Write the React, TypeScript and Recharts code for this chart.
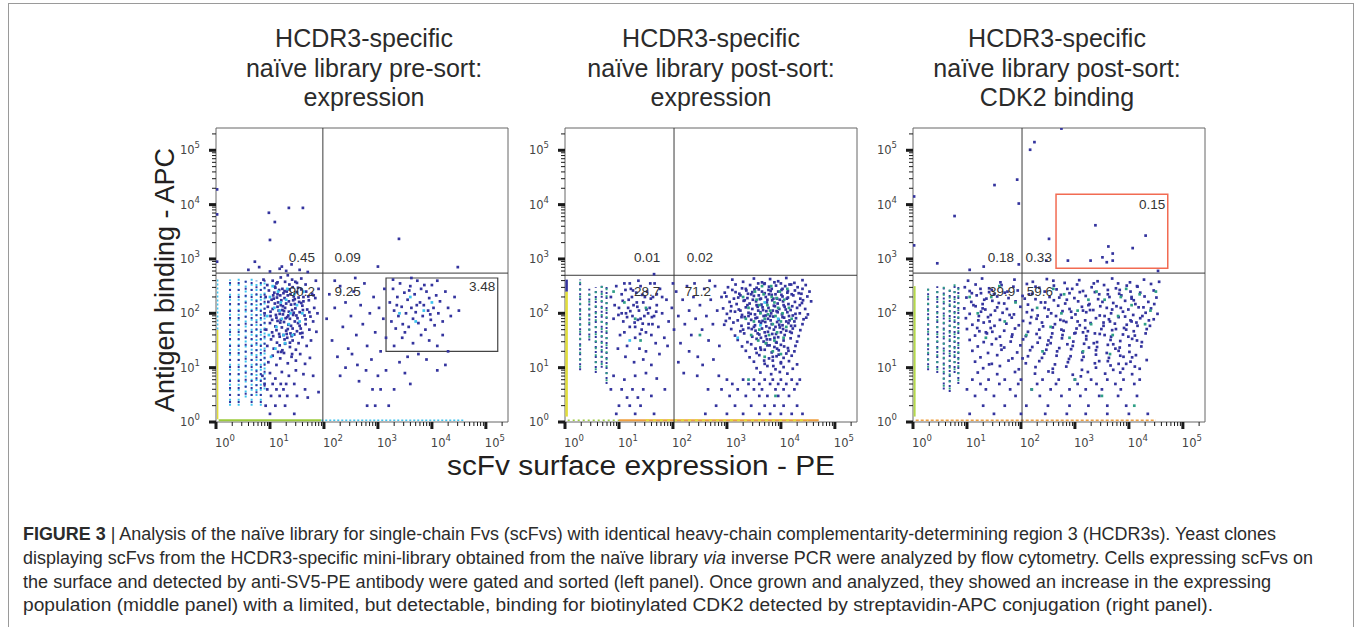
import React from "react";
import {
  ScatterChart,
  Scatter,
  XAxis,
  YAxis,
  ReferenceLine,
  ReferenceArea,
  ReferenceDot,
} from "recharts";

// every value below is in decades (log10 of the fluorescence channel)
const BLUE = "#34349e";
const CYAN = "#3ec3ee";
const GREEN = "#2f9f86";
const YELLOW = "#e2de3a";
const ORANGE = "#ef9f3f";
const LIME = "#9ccb3c";

const decades = [0, 1, 2, 3, 4, 5];
const minorSteps = [2, 3, 4, 5, 6, 7, 8, 9];
const AXIS_MAX = 5.41;

// ---------- panel 1: pre-sort expression ----------
const p1LeftBlue = [
  [0.95,2.52],[1.05,2.6],[1.12,2.55],[1.2,2.66],[1.28,2.58],[1.33,2.7],[1.41,2.62],[1.5,2.56],[1.58,2.64],[1.66,2.53],[1.3,2.78],[1.18,2.82],[1.22,2.86],[1.4,2.9],[1.55,2.8],[1.0,2.77],[0.8,2.85],[1.7,2.76],[1.85,2.6],[0.88,2.62],
  [0.92,2.3],[0.98,2.42],[1.03,2.25],[1.08,2.38],[1.1,2.47],[1.15,2.2],[1.19,2.33],[1.23,2.45],[1.27,2.28],[1.31,2.4],[1.35,2.22],[1.38,2.35],[1.42,2.48],[1.46,2.26],[1.5,2.39],[1.54,2.21],[1.58,2.44],[1.62,2.3],[1.67,2.4],[1.72,2.24],[1.78,2.36],[1.84,2.28],[1.9,2.45],[1.13,2.29],[1.25,2.37],[1.36,2.44],[1.44,2.31],[1.21,2.24],[1.06,2.33],[1.52,2.47],
  [0.9,2.0],[0.96,2.12],[1.01,1.95],[1.05,2.08],[1.09,2.18],[1.12,1.92],[1.16,2.05],[1.2,2.15],[1.24,1.98],[1.28,2.1],[1.32,1.93],[1.35,2.03],[1.39,2.16],[1.43,1.97],[1.47,2.09],[1.51,1.91],[1.55,2.02],[1.6,2.14],[1.64,1.96],[1.69,2.07],[1.75,1.94],[1.82,2.1],[1.88,2.0],[1.18,1.99],[1.3,2.18],[1.41,2.06],[1.26,2.04],[1.14,2.12],[1.37,1.9],[1.58,2.19],
  [0.93,1.7],[1.0,1.82],[1.04,1.65],[1.1,1.76],[1.14,1.86],[1.17,1.62],[1.22,1.74],[1.26,1.84],[1.3,1.68],[1.34,1.79],[1.38,1.63],[1.42,1.72],[1.46,1.85],[1.5,1.67],[1.55,1.77],[1.6,1.64],[1.66,1.8],[1.73,1.7],[1.8,1.85],[1.86,1.66],[1.2,1.88],[1.33,1.71],[1.45,1.61],[1.12,1.69],
  [0.95,1.4],[1.02,1.52],[1.07,1.35],[1.13,1.46],[1.18,1.57],[1.23,1.32],[1.28,1.44],[1.32,1.55],[1.37,1.38],[1.42,1.5],[1.48,1.33],[1.53,1.45],[1.6,1.56],[1.68,1.4],[1.76,1.5],[1.25,1.6],[1.4,1.58],
  [0.97,1.1],[1.05,1.22],[1.12,1.05],[1.19,1.17],[1.26,1.27],[1.33,1.08],[1.4,1.2],[1.48,1.13],[1.56,1.25],[1.65,1.07],[1.74,1.18],[1.15,1.29],
  [0.86,0.85],[1.0,0.9],[1.1,0.8],[1.22,0.92],[1.35,0.85],[1.48,0.95],[1.62,0.88],[0.9,0.7],[1.05,0.7],[1.2,0.7],[1.3,0.7],[1.45,0.7],[0.95,0.6],[1.12,0.6],[1.25,0.6],[1.02,0.48],[1.18,0.48],[1.32,0.48],[1.5,0.48],[1.7,0.45],[0.92,0.3],[1.1,0.3],[1.28,0.3],[1.45,0.15],[1.0,0.15],[1.65,0.6],[1.8,0.85],[1.9,0.55],
  [1.07,2.27],[1.17,2.43],[1.24,2.13],[1.33,2.33],[1.46,2.17],[1.53,2.29],[1.61,2.06],[1.71,2.31],[1.11,1.97],[1.19,1.83],[1.29,1.91],[1.39,1.77],[1.49,1.96],[1.57,1.72],[1.66,1.89],[1.04,1.88],[0.97,2.21],[1.14,2.57],[1.36,2.53],[1.47,2.58],[1.27,1.52],[1.37,1.46],[1.18,1.41],[1.56,1.63],[1.06,1.58],[1.43,2.24],[1.23,2.06],[1.34,1.96],[1.44,2.01],[1.14,2.35],[1.52,1.82],[1.62,2.22],[1.73,2.02],[1.81,2.33],[1.31,1.62],[1.21,1.29],[1.41,1.25],[1.01,2.03],[1.09,2.49],[1.27,2.41],
];
const p1LeftCyan = [
  [1.0,2.3],[1.08,2.1],[1.15,2.4],[1.22,1.9],[1.3,2.25],[1.38,2.0],[1.45,2.35],[1.12,1.75],[1.25,1.6],[1.35,1.8],[1.5,2.15],[0.95,1.95],[1.05,2.5],[1.18,2.05],[1.28,1.45],[1.42,1.6],[1.6,2.0],[1.62,2.4],[0.98,1.6],[1.1,1.35],[1.55,1.85],[1.2,2.2],[1.32,2.45],[1.02,1.2],
];
const p1RightBlue = [
  [2.05,1.9],[2.1,2.35],[2.15,1.5],[2.2,2.1],[2.25,1.2],[2.3,2.5],[2.35,1.75],[2.4,2.2],[2.45,1.35],[2.5,1.95],[2.55,2.4],[2.6,1.6],[2.62,1.05],[2.68,2.15],[2.72,1.8],[2.75,2.55],[2.8,1.4],[2.85,2.0],[2.88,1.15],[2.92,2.3],[2.95,1.65],[3.0,0.85],[3.02,2.1],[3.05,1.3],[3.1,1.9],[3.12,2.45],[3.15,1.55],[2.2,2.6],[2.4,1.0],[2.58,2.65],[2.78,0.95],[2.9,0.6],[2.95,0.3],[3.05,0.6],[3.15,0.95],[3.2,0.3],[3.3,0.6],[2.65,0.75],[2.8,0.3],[3.4,1.1],[3.5,0.9],[3.6,0.7],[4.1,0.95],[4.25,1.05],[2.3,0.85],[2.52,1.25],
  [3.22,2.2],[3.25,1.85],[3.28,2.45],[3.3,2.05],[3.33,1.72],[3.36,2.3],[3.38,1.95],[3.41,2.55],[3.44,2.12],[3.46,1.8],[3.49,2.38],[3.52,2.0],[3.55,2.25],[3.57,1.75],[3.6,2.5],[3.62,2.1],[3.65,1.9],[3.68,2.35],[3.7,2.02],[3.73,2.6],[3.75,1.82],[3.78,2.2],[3.8,2.45],[3.83,1.95],[3.85,2.15],[3.88,1.7],[3.9,2.4],[3.93,2.05],[3.95,2.28],[3.98,1.88],[4.0,2.52],[4.03,2.1],[4.05,1.78],[4.08,2.33],[4.12,2.0],[4.15,2.22],[4.2,1.85],[4.25,2.4],[4.3,2.1],[4.35,1.95],[4.42,2.3],[4.5,2.05],[3.35,2.15],[3.5,1.65],[3.58,2.42],[3.72,2.15],[3.86,2.52],[3.97,1.98],[4.1,2.6],[3.45,1.55],[3.65,1.45],[3.8,1.6],[3.95,1.5],[4.1,1.4],[3.3,1.4],[4.2,1.6],[3.55,1.2],[3.75,1.25],[3.9,1.15],[4.3,1.3],[3.62,2.65],[3.28,2.62],
];
const p1RightCyan = [[3.6,2.3],[3.85,2.05],[3.4,2.0],[4.0,2.2],[3.7,1.85]];
const p1Outliers = [
  [0.98,3.85],[1.09,3.68],[1.35,3.94],[1.61,3.94],[1.0,3.35],[0.72,2.95],[0.6,2.8],[3.39,3.37],[4.48,2.85],[3.0,2.86],[0.02,4.28],[0.02,3.82],[0.02,2.95],
];
const p1Columns = [
  { x: 0.26, lo: 0.3, hi: 2.62 },
  { x: 0.42, lo: 0.3, hi: 2.66 },
  { x: 0.55, lo: 0.45, hi: 2.6 },
  { x: 0.66, lo: 0.3, hi: 2.64 },
  { x: 0.75, lo: 0.48, hi: 2.6 },
  { x: 0.83, lo: 0.3, hi: 2.58 },
  { x: 0.9, lo: 0.6, hi: 2.62 },
];
const p1Edges = [
  { x1: 0.03, y1: 0.05, x2: 0.03, y2: 1.7, color: YELLOW, width: 1.5 },
  { x1: 0.03, y1: 1.7, x2: 0.03, y2: 2.62, color: CYAN, width: 1.5, dash: "2 2" },
  { x1: 0.05, y1: 0.03, x2: 1.95, y2: 0.03, color: LIME, width: 2 },
  { x1: 1.95, y1: 0.03, x2: 4.6, y2: 0.03, color: CYAN, width: 1.5, dash: "2 2" },
];
const p1Labels = [
  { x: 1.59, y: 3.04, text: "0.45" },
  { x: 2.44, y: 3.04, text: "0.09" },
  { x: 1.59, y: 2.41, text: "90.2" },
  { x: 2.44, y: 2.41, text: "9.25" },
  { x: 4.93, y: 2.5, text: "3.48" },
];

// ---------- panel 2: post-sort expression ----------
const p2LeftBlue = [
  [0.85,2.3],[0.9,1.9],[0.95,2.5],[1.0,2.1],[1.02,1.6],[1.05,2.35],[1.08,1.85],[1.1,2.55],[1.13,2.0],[1.15,1.4],[1.18,2.25],[1.2,1.75],[1.22,2.45],[1.25,1.95],[1.27,2.15],[1.3,1.55],[1.32,2.38],[1.35,1.88],[1.37,2.05],[1.4,2.5],[1.42,1.7],[1.45,2.2],[1.47,1.95],[1.5,1.3],[1.52,2.4],[1.55,1.8],[1.57,2.1],[1.6,1.6],[1.63,2.3],[1.65,1.95],[1.68,1.45],[1.7,2.15],[1.73,1.75],[1.76,2.45],[1.8,2.0],[1.84,1.55],[1.88,2.25],[1.92,1.85],[1.12,1.2],[1.28,1.1],[1.45,1.15],[1.6,1.05],[0.98,1.35],[1.38,1.35],[1.75,1.25],[1.9,1.4],[1.05,2.0],[1.17,2.1],[1.24,2.3],[1.33,2.2],[1.4,1.9],[1.48,2.3],[1.54,2.0],[1.62,1.8],[1.7,2.35],[1.36,2.6],[1.2,2.55],[1.58,2.55],[0.92,2.15],[1.1,1.65],[1.3,1.75],[1.5,1.65],[1.66,2.55],[1.8,2.3],
  [1.07,2.23],[1.15,1.93],[1.26,2.42],[1.29,1.83],[1.34,2.12],[1.43,2.34],[1.44,1.81],[1.51,2.07],[1.59,2.27],[1.61,1.93],[1.69,2.03],[1.21,2.04],[0.99,1.97],[1.12,2.43],[1.39,1.62],
  [0.9,0.85],[1.1,0.78],[1.3,0.85],[1.5,0.9],[1.7,0.8],[0.85,0.6],[1.05,0.6],[1.25,0.6],[1.45,0.6],[1.15,0.45],[1.35,0.45],[1.0,0.3],[1.2,0.3],[1.4,0.3],[1.6,0.48],[1.3,0.15],[0.95,0.15],[1.65,0.15],[1.85,0.6],
];
const p2BridgeBlue = [
  [1.98,2.1],[2.02,1.7],[2.06,2.4],[2.1,1.95],[2.14,1.45],[2.18,2.25],[2.22,1.8],[2.26,2.5],[2.3,2.05],[2.34,1.6],[2.38,2.3],[2.42,1.9],[2.46,1.2],[2.5,2.15],[2.54,1.7],[2.58,2.45],[2.62,1.95],[2.66,1.5],[2.7,2.25],[2.74,1.8],[2.78,2.5],[2.82,2.05],[2.86,1.4],[2.9,2.3],[2.1,1.1],[2.3,1.3],[2.55,1.05],[2.75,1.15],[2.2,0.9],[2.45,0.85],[2.65,0.6],[2.85,0.85],[2.0,2.55],[2.4,2.55],[2.68,2.6],[1.65,2.72],
];
const p2RightBlue = [
  [3.1,2.62],[3.3,2.58],[3.5,2.64],[3.65,2.57],[3.8,2.63],[3.95,2.59],[4.1,2.65],[4.25,2.56],[4.4,2.61],
  [3.02,2.48],[3.16,2.53],[3.28,2.46],[3.43,2.52],[3.55,2.47],[3.69,2.54],[3.78,2.49],[3.91,2.51],[4.03,2.45],[4.16,2.53],[4.31,2.48],[4.46,2.52],
  [2.96,2.38],[3.1,2.43],[3.23,2.36],[3.36,2.42],[3.47,2.39],[3.59,2.44],[3.7,2.37],[3.81,2.41],[3.9,2.35],[4.01,2.43],[4.12,2.38],[4.26,2.42],[4.38,2.36],[4.53,2.4],
  [2.99,2.31],[3.13,2.27],[3.25,2.33],[3.38,2.28],[3.5,2.32],[3.61,2.26],[3.72,2.3],[3.83,2.34],[3.93,2.27],[4.03,2.31],[4.13,2.29],[4.23,2.33],[4.36,2.27],[4.49,2.31],
  [3.05,2.21],[3.18,2.17],[3.31,2.23],[3.42,2.18],[3.54,2.22],[3.64,2.16],[3.74,2.2],[3.84,2.24],[3.94,2.18],[4.04,2.22],[4.14,2.17],[4.26,2.21],[4.39,2.19],[4.56,2.22],
  [2.93,2.09],[3.08,2.13],[3.22,2.07],[3.35,2.11],[3.47,2.08],[3.57,2.12],[3.67,2.06],[3.77,2.1],[3.87,2.14],[3.97,2.08],[4.07,2.12],[4.18,2.06],[4.3,2.1],[4.45,2.08],
  [3.0,1.99],[3.15,2.03],[3.28,1.97],[3.4,2.01],[3.52,1.98],[3.62,2.02],[3.72,1.96],[3.82,2.0],[3.92,2.04],[4.02,1.98],[4.12,2.02],[4.22,1.96],[4.35,2.0],[4.5,1.98],
  [3.05,1.91],[3.2,1.87],[3.33,1.93],[3.45,1.88],[3.56,1.92],[3.66,1.86],[3.76,1.9],[3.86,1.94],[3.96,1.88],[4.06,1.92],[4.16,1.87],[4.28,1.91],[4.42,1.89],
  [2.95,1.79],[3.12,1.83],[3.27,1.77],[3.4,1.81],[3.52,1.78],[3.63,1.82],[3.73,1.76],[3.83,1.8],[3.93,1.84],[4.03,1.78],[4.14,1.82],[4.26,1.77],[4.4,1.8],
  [3.08,1.71],[3.25,1.67],[3.4,1.73],[3.53,1.68],[3.65,1.72],[3.76,1.66],[3.87,1.7],[3.98,1.74],[4.1,1.68],[4.22,1.72],[4.36,1.69],
  [3.15,1.59],[3.32,1.63],[3.47,1.57],[3.6,1.61],[3.72,1.58],[3.84,1.62],[3.95,1.56],[4.07,1.6],[4.2,1.64],[4.33,1.58],
  [3.2,1.51],[3.38,1.47],[3.55,1.53],[3.68,1.48],[3.8,1.52],[3.92,1.46],[4.05,1.5],[4.18,1.54],[4.3,1.48],
  [3.28,1.39],[3.45,1.43],[3.62,1.37],[3.75,1.41],[3.88,1.38],[4.0,1.42],[4.13,1.36],[4.27,1.4],
  [3.35,1.31],[3.55,1.27],[3.7,1.33],[3.83,1.28],[3.96,1.32],[4.1,1.26],[4.25,1.3],
  [3.42,1.19],[3.6,1.23],[3.78,1.17],[3.92,1.21],[4.05,1.18],[4.2,1.22],
  [3.5,1.11],[3.7,1.07],[3.85,1.13],[4.0,1.08],[4.15,1.12],[4.3,1.06],
  [3.55,0.99],[3.75,1.03],[3.9,0.97],[4.05,1.01],[4.22,0.98],
  [3.62,0.91],[3.82,0.88],[3.98,0.92],[4.12,0.89],
  [3.0,0.78],[3.3,0.78],[3.5,0.78],[3.7,0.78],[3.85,0.78],[4.0,0.78],[4.2,0.78],[4.35,0.78],[3.1,0.7],[3.4,0.7],[3.6,0.7],[3.8,0.7],[3.95,0.7],[4.1,0.7],[4.3,0.7],[2.9,0.6],[3.2,0.6],[3.5,0.6],[3.65,0.6],[3.9,0.6],[4.05,0.6],[4.25,0.6],[3.05,0.48],[3.35,0.48],[3.6,0.48],[3.75,0.48],[3.95,0.48],[4.15,0.48],[2.8,0.3],[3.15,0.3],[3.45,0.3],[3.7,0.3],[3.88,0.3],[4.05,0.3],[4.3,0.3],[2.6,0.15],[3.0,0.15],[3.3,0.15],[3.6,0.15],[3.8,0.15],[4.0,0.15],[4.2,0.15],[4.4,0.15],
  [3.35,2.45],[3.45,2.35],[3.55,2.15],[3.65,2.4],[3.75,2.25],[3.85,2.05],[3.95,2.4],[4.05,2.15],[4.15,1.95],[3.4,1.95],[3.5,1.75],[3.6,1.85],[3.7,1.65],[3.8,1.95],[3.9,1.75],[4.0,1.65],[4.1,1.85],[4.2,2.35],[3.58,2.05],[3.68,1.95],[3.78,2.35],[3.88,1.55],[3.98,2.25],[4.08,2.5],[3.48,2.25],[3.38,2.15],[3.63,1.55],[3.73,1.45],[3.93,1.35],[4.25,1.85],[4.35,2.15],[3.25,2.05],[3.3,1.7],[4.4,2.45],[3.83,2.45],[3.7,2.55],[4.0,2.55],[3.53,1.35],[3.85,1.2],[4.0,1.1],
  [3.33,2.24],[3.44,1.99],[3.51,2.44],[3.57,1.63],[3.63,2.27],[3.71,1.84],[3.77,2.43],[3.79,1.73],[3.86,2.27],[3.91,1.62],[3.94,2.02],[4.01,2.34],[4.04,1.71],[4.09,2.07],[4.13,2.41],[4.17,1.66],[4.21,2.13],[4.27,1.99],[4.33,2.37],[3.46,1.71],[3.53,1.91],[3.59,2.33],[3.66,2.11],[3.73,2.04],[3.81,1.87],[3.89,2.13],[3.97,1.79],[4.03,1.93],[4.11,2.27],[4.19,1.77],[3.39,2.36],[3.27,1.93],[3.21,2.29],[3.63,1.33],[3.79,1.41],[3.96,1.24],[4.14,1.31],[3.69,1.13],[3.86,1.03],[4.06,1.39],[4.41,2.24],[4.47,1.92],[3.16,2.39],[3.07,2.04],[2.98,1.86],[3.58,2.55],[3.88,2.57],[4.19,2.53],[3.74,1.52],[3.91,1.47],
];
const p2Green = [
  [3.4,2.1],[3.5,1.85],[3.55,2.25],[3.6,1.7],[3.62,2.0],[3.68,2.35],[3.7,1.9],[3.75,2.15],[3.78,1.6],[3.8,2.05],[3.83,2.3],[3.85,1.8],[3.88,2.2],[3.9,1.95],[3.93,1.65],[3.95,2.1],[3.98,2.4],[4.0,1.85],[4.03,2.0],[4.06,2.25],[4.1,1.75],[4.15,2.1],[3.45,1.6],[3.58,1.5],[3.72,1.45],[3.88,1.5],[4.05,1.55],[3.35,1.9],[3.52,2.4],[3.65,2.5],[3.82,2.5],[4.12,2.45],[3.7,1.2],[3.85,1.3],[4.0,1.25],[3.3,2.3],[3.6,2.15],[3.92,2.28],[3.76,1.98],[4.2,1.9],
  [1.3,1.9],[1.1,2.2],[1.5,2.1],[1.4,1.5],[0.9,2.4],[2.5,1.6],[3.4,0.78],[3.9,0.48],
];
const p2Cyan = [[3.7,2.2],[3.95,1.9],[1.2,1.5],[3.2,1.55],[3.62,1.78]];
const p2Columns = [
  { x: 0.28, lo: 0.95, hi: 2.62 },
  { x: 0.45, lo: 1.5, hi: 2.45 },
  { x: 0.57, lo: 0.9, hi: 2.48 },
  { x: 0.68, lo: 1.0, hi: 2.55 },
  { x: 0.77, lo: 0.7, hi: 2.5 },
];
const p2Edges = [
  { x1: 0.03, y1: 0.1, x2: 0.03, y2: 2.4, color: YELLOW, width: 2.5 },
  { x1: 0.03, y1: 2.4, x2: 0.03, y2: 2.62, color: BLUE, width: 2.5 },
  { x1: 0.05, y1: 0.03, x2: 1.0, y2: 0.03, color: LIME, width: 1.5, dash: "2 3" },
  { x1: 1.0, y1: 0.03, x2: 4.7, y2: 0.03, color: ORANGE, width: 2 },
  { x1: 1.5, y1: 0.03, x2: 4.5, y2: 0.03, color: YELLOW, width: 2, dash: "3 4" },
];
const p2Labels = [
  { x: 1.52, y: 3.04, text: "0.01" },
  { x: 2.5, y: 3.04, text: "0.02" },
  { x: 1.52, y: 2.41, text: "28.7" },
  { x: 2.46, y: 2.41, text: "71.2" },
];

// ---------- panel 3: post-sort CDK2 binding ----------
const p3Blue = [
  [1.02,2.6],[1.28,2.64],[1.62,2.57],[1.88,2.62],[2.22,2.58],[2.48,2.63],[2.81,2.56],[3.08,2.61],[3.42,2.59],[3.69,2.64],[4.02,2.57],[4.28,2.62],[4.56,2.58],
  [0.96,2.48],[1.16,2.53],[1.41,2.46],[1.64,2.52],[1.86,2.49],[2.11,2.54],[2.34,2.47],[2.61,2.51],[2.86,2.45],[3.04,2.53],[3.31,2.48],[3.54,2.52],[3.76,2.46],[3.96,2.51],[4.16,2.49],[4.41,2.54],
  [1.05,2.41],[1.26,2.37],[1.46,2.43],[1.7,2.38],[1.94,2.42],[2.21,2.36],[2.44,2.4],[2.66,2.44],[2.9,2.37],[3.15,2.41],[3.37,2.39],[3.61,2.43],[3.82,2.36],[4.03,2.4],[4.21,2.38],[4.46,2.42],
  [0.99,2.29],[1.18,2.33],[1.36,2.27],[1.56,2.31],[1.77,2.28],[2.03,2.32],[2.27,2.26],[2.53,2.3],[2.74,2.34],[2.99,2.28],[3.2,2.32],[3.43,2.26],[3.64,2.3],[3.86,2.33],[4.05,2.27],[4.29,2.31],[4.51,2.29],
  [1.08,2.21],[1.29,2.17],[1.47,2.23],[1.69,2.18],[1.9,2.22],[2.13,2.16],[2.37,2.2],[2.61,2.24],[2.82,2.18],[3.06,2.22],[3.27,2.17],[3.51,2.21],[3.71,2.19],[3.93,2.23],[4.12,2.17],[4.36,2.21],
  [0.95,2.09],[1.16,2.13],[1.34,2.07],[1.56,2.11],[1.74,2.08],[1.99,2.12],[2.21,2.06],[2.44,2.1],[2.69,2.14],[2.9,2.08],[3.13,2.12],[3.34,2.06],[3.59,2.1],[3.77,2.13],[3.99,2.07],[4.18,2.11],[4.41,2.09],
  [1.05,1.99],[1.26,2.03],[1.44,1.97],[1.66,2.01],[1.87,1.98],[2.11,2.02],[2.31,1.96],[2.56,2.0],[2.77,2.04],[3.01,1.98],[3.21,2.02],[3.46,1.96],[3.67,2.0],[3.89,2.03],[4.08,1.97],[4.31,2.01],[4.53,1.99],
  [0.98,1.91],[1.21,1.87],[1.39,1.93],[1.61,1.88],[1.83,1.92],[2.04,1.86],[2.29,1.9],[2.49,1.94],[2.73,1.88],[2.94,1.92],[3.19,1.87],[3.39,1.91],[3.63,1.89],[3.81,1.93],[4.03,1.87],[4.21,1.91],[4.46,1.89],
  [1.1,1.79],[1.31,1.83],[1.51,1.77],[1.73,1.81],[1.96,1.78],[2.17,1.82],[2.41,1.76],[2.63,1.8],[2.84,1.84],[3.09,1.78],[3.29,1.82],[3.53,1.77],[3.74,1.81],[3.96,1.79],[4.14,1.83],[4.39,1.77],
  [1.0,1.71],[1.23,1.67],[1.44,1.73],[1.69,1.68],[1.89,1.72],[2.13,1.66],[2.34,1.7],[2.59,1.74],[2.79,1.68],[3.03,1.72],[3.24,1.67],[3.49,1.71],[3.69,1.69],[3.91,1.73],[4.09,1.67],[4.33,1.71],
  [1.15,1.59],[1.37,1.63],[1.61,1.57],[1.84,1.61],[2.09,1.58],[2.29,1.62],[2.56,1.56],[2.77,1.6],[3.01,1.64],[3.21,1.58],[3.46,1.62],[3.67,1.57],[3.89,1.61],[4.11,1.59],[4.31,1.63],
  [1.05,1.51],[1.31,1.47],[1.54,1.53],[1.81,1.48],[2.04,1.52],[2.31,1.46],[2.51,1.5],[2.76,1.54],[2.97,1.48],[3.21,1.52],[3.41,1.47],[3.66,1.51],[3.84,1.49],[4.06,1.53],[4.24,1.47],
  [1.2,1.39],[1.46,1.43],[1.69,1.37],[1.99,1.41],[2.21,1.38],[2.49,1.42],[2.71,1.36],[2.96,1.4],[3.17,1.44],[3.41,1.38],[3.61,1.42],[3.83,1.37],[4.01,1.41],[4.23,1.39],
  [1.1,1.31],[1.39,1.27],[1.64,1.33],[1.93,1.28],[2.17,1.32],[2.43,1.26],[2.67,1.3],[2.93,1.34],[3.14,1.28],[3.39,1.32],[3.59,1.27],[3.81,1.31],[4.01,1.29],
  [1.25,1.19],[1.56,1.23],[1.84,1.17],[2.13,1.21],[2.39,1.18],[2.66,1.22],[2.89,1.16],[3.16,1.2],[3.39,1.24],[3.63,1.18],[3.84,1.22],[4.06,1.19],
  [1.15,1.11],[1.46,1.07],[1.77,1.13],[2.09,1.08],[2.34,1.12],[2.63,1.06],[2.87,1.1],[3.13,1.14],[3.37,1.08],[3.61,1.12],[3.81,1.07],[4.03,1.11],
  [1.3,0.99],[1.61,1.03],[1.96,0.97],[2.27,1.01],[2.59,0.98],[2.84,1.02],[3.13,0.96],[3.39,1.0],[3.66,1.04],[3.89,0.98],[4.11,1.02],
  [1.2,0.91],[1.56,0.88],[1.89,0.92],[2.26,0.89],[2.59,0.91],[2.96,0.87],[3.24,0.92],[3.56,0.89],[3.84,0.91],[4.06,0.88],
  [1.1,0.78],[1.4,0.78],[1.7,0.78],[2.0,0.78],[2.4,0.78],[2.7,0.78],[3.0,0.78],[3.3,0.78],[3.6,0.78],[3.9,0.78],[4.2,0.78],[1.25,0.7],[1.6,0.7],[1.95,0.7],[2.3,0.7],[2.65,0.7],[3.05,0.7],[3.4,0.7],[3.75,0.7],[4.1,0.7],[1.0,0.6],[1.35,0.6],[1.8,0.6],[2.2,0.6],[2.55,0.6],[2.9,0.6],[3.2,0.6],[3.5,0.6],[3.85,0.6],[1.15,0.48],[1.5,0.48],[1.9,0.48],[2.35,0.48],[2.75,0.48],[3.1,0.48],[3.45,0.48],[3.8,0.48],[4.15,0.48],[1.3,0.3],[1.7,0.3],[2.1,0.3],[2.5,0.3],[2.9,0.3],[3.25,0.3],[3.6,0.3],[3.95,0.3],[1.05,0.15],[1.5,0.15],[2.0,0.15],[2.45,0.15],[2.85,0.15],[3.2,0.15],[3.6,0.15],[4.0,0.15],[4.35,0.15],
  [1.12,2.15],[1.22,1.95],[1.32,2.25],[1.42,1.85],[1.52,2.05],[1.35,1.65],[1.25,2.45],[1.5,2.35],[2.45,2.2],[2.65,1.95],[2.85,2.25],[3.05,1.85],[3.25,2.15],[3.45,2.35],[3.65,1.85],[3.85,2.1],[4.05,2.3],[4.25,1.95],[2.75,1.7],[3.15,1.65],[3.55,1.6],[3.95,1.7],[2.55,1.45],[3.35,1.45],[3.75,1.35],[4.15,1.5],[2.95,2.45],[3.35,2.55],[3.8,2.55],[2.35,1.55],[2.15,2.35],[1.75,2.4],[3.55,1.95],[3.15,2.05],[2.6,2.6],[4.15,2.5],[3.9,1.2],[4.2,0.98],[4.05,1.85],
  [1.09,2.37],[1.19,1.73],[1.29,2.09],[1.41,2.39],[1.47,1.66],[1.59,2.19],[1.79,1.97],[1.83,1.57],[2.07,2.27],[2.19,1.93],[2.27,2.49],[2.39,1.83],[2.51,2.07],[2.58,1.63],[2.71,2.29],[2.79,1.86],[2.93,2.03],[2.99,1.63],[3.09,2.39],[3.19,1.73],[3.28,2.06],[3.37,1.63],[3.47,2.13],[3.53,1.83],[3.61,2.35],[3.69,2.07],[3.76,1.71],[3.83,2.43],[3.93,1.94],[3.99,1.57],[4.09,2.24],[4.16,1.77],[4.27,2.11],[4.37,1.87],[4.47,2.17],[2.47,1.33],[2.86,1.43],[3.26,1.37],[3.71,1.43],[4.13,1.23],[1.63,1.41],[2.03,1.17],[2.92,1.21],[3.45,1.12],[3.95,1.07],[1.41,1.06],[2.51,0.93],[3.11,0.84],[3.71,0.96],[4.33,1.14],
];
const p3Green = [
  [1.2,2.0],[1.45,2.3],[1.7,1.85],[2.3,2.1],[2.55,1.75],[2.8,2.35],[3.05,2.05],[3.3,1.8],[3.55,2.25],[3.8,1.95],[4.05,2.15],[4.3,1.8],[2.1,1.6],[2.9,1.55],[3.4,2.4],[3.7,1.6],[4.2,2.35],[1.35,1.55],[1.05,2.3],[2.6,2.45],[3.15,1.3],[3.65,1.25],[3.95,2.45],[2.4,1.3],[4.4,2.05],[1.6,2.5],[3.0,0.78],[3.5,0.48],[2.2,0.6],[4.1,0.3],[3.25,2.25],[2.75,2.0],[1.9,2.2],[3.85,2.3],[4.5,2.4],
];
const p3Outliers = [
  [2.75,5.4],[2.25,5.15],[2.17,5.01],[1.93,4.46],[1.51,4.36],[1.96,4.02],[0.77,3.79],[0.45,2.92],[1.31,2.86],[1.05,2.8],[1.96,2.9],[3.38,3.62],[2.52,3.37],[4.31,3.43],[3.62,3.23],[4.07,3.2],[3.7,3.1],[2.47,2.97],[2.87,2.97],[3.29,2.97],[3.51,3.03],[3.59,2.94],[3.7,2.97],[4.54,2.78],[0.02,4.15],[0.02,3.25],
];
const p3Columns = [
  { x: 0.28, lo: 0.95, hi: 2.45 },
  { x: 0.45, lo: 0.9, hi: 2.5 },
  { x: 0.57, lo: 0.6, hi: 2.5 },
  { x: 0.68, lo: 0.55, hi: 2.48 },
  { x: 0.77, lo: 0.9, hi: 2.55 },
  { x: 0.84, lo: 0.7, hi: 2.5 },
];
const p3Edges = [
  { x1: 0.03, y1: 0.1, x2: 0.03, y2: 2.5, color: "#b5d94a", width: 2 },
  { x1: 0.05, y1: 0.03, x2: 4.5, y2: 0.03, color: ORANGE, width: 1.5, dash: "3 2" },
];
const p3Labels = [
  { x: 1.63, y: 3.04, text: "0.18" },
  { x: 2.33, y: 3.04, text: "0.33" },
  { x: 1.65, y: 2.41, text: "39.9" },
  { x: 2.35, y: 2.41, text: "59.6" },
  { x: 4.43, y: 4.0, text: "0.15" },
];

const titles = [
  ["HCDR3-specific", "naïve library pre-sort:", "expression"],
  ["HCDR3-specific", "naïve library post-sort:", "expression"],
  ["HCDR3-specific", "naïve library post-sort:", "CDK2 binding"],
];

// tick positions: decades plus 2..9 minor steps
const axisTicks = decades
  .flatMap((d) => [d, ...minorSteps.map((m) => d + Math.log10(m))])
  .filter((v) => v <= AXIS_MAX);

const CHART_W = 350;
const CHART_H = 340;
const PLOT_LEFT = 50;
const PLOT_BOTTOM = 304;
const tickFont = "'DejaVu Sans', Verdana, sans-serif";
const textFont = "'Liberation Sans', Arial, Helvetica, sans-serif";

const XTick = (props: any) => {
  const { x, payload } = props;
  const major = Number.isInteger(payload.value);
  return (
    <g>
      {major ? (
        <rect x={x - 1.5} y={PLOT_BOTTOM} width={3} height={7} fill="#1a1a1a" />
      ) : (
        <line x1={x} x2={x} y1={PLOT_BOTTOM} y2={PLOT_BOTTOM + 4} stroke="#1a1a1a" strokeWidth={1} />
      )}
      {major && (
        <text x={x + 9} y={PLOT_BOTTOM + 25} textAnchor="middle" fontSize={11.5} fill="#444" fontFamily={tickFont}>
          10
          <tspan dy={-6} fontSize={8.5}>
            {payload.value}
          </tspan>
        </text>
      )}
    </g>
  );
};

const YTick = (props: any) => {
  const { y, payload } = props;
  const major = Number.isInteger(payload.value);
  return (
    <g>
      {major ? (
        <rect x={PLOT_LEFT - 7} y={y - 1.5} width={7} height={3} fill="#1a1a1a" />
      ) : (
        <line x1={PLOT_LEFT - 4} x2={PLOT_LEFT} y1={y} y2={y} stroke="#1a1a1a" strokeWidth={1} />
      )}
      {major && (
        <text x={PLOT_LEFT - 16} y={y + 4} textAnchor="end" fontSize={11.5} fill="#444" fontFamily={tickFont}>
          10
          <tspan dy={-6} fontSize={8.5}>
            {payload.value}
          </tspan>
        </text>
      )}
    </g>
  );
};

const square = (color: string, size = 2.7) => (p: any) =>
  <rect x={p.cx - size / 2} y={p.cy - size / 2} width={size} height={size} fill={color} />;

const toPoints = (arr: number[][]) => arr.map(([x, y]) => ({ x, y }));

type Seg = { x1: number; y1: number; x2: number; y2: number; color: string; width: number; dash?: string };
type Col = { x: number; lo: number; hi: number };
type Lab = { x: number; y: number; text: string };

interface PanelProps {
  left: number;
  series: { data: number[][]; color: string }[];
  columns: Col[];
  columnColors: [string, string];
  edges: Seg[];
  quadX: number;
  quadY: number;
  labels: Lab[];
  gate?: { x1: number; x2: number; y1: number; y2: number; color: string; width: number };
}

const Panel = ({ left, series, columns, columnColors, edges, quadX, quadY, labels, gate }: PanelProps) => (
  <div style={{ position: "absolute", left, top: 118 }}>
    <ScatterChart width={CHART_W} height={CHART_H} margin={{ top: 10, right: 8, bottom: 0, left: 0 }}>
      <XAxis
        type="number"
        dataKey="x"
        domain={[0, AXIS_MAX]}
        ticks={axisTicks}
        interval={0}
        tick={(p: any) => <XTick {...p} />}
        tickLine={false}
        axisLine={false}
        height={36}
        allowDataOverflow
      />
      <YAxis
        type="number"
        dataKey="y"
        domain={[0, AXIS_MAX]}
        ticks={axisTicks}
        interval={0}
        tick={(p: any) => <YTick {...p} />}
        tickLine={false}
        axisLine={false}
        width={50}
        allowDataOverflow
      />
      {columns.map((c, i) => (
        <ReferenceLine
          key={`ca${i}`}
          segment={[{ x: c.x, y: c.lo }, { x: c.x, y: c.hi }]}
          stroke={columnColors[0]}
          strokeWidth={2}
          strokeDasharray="2 3"
        />
      ))}
      {columns.map((c, i) => (
        <ReferenceLine
          key={`cb${i}`}
          segment={[{ x: c.x, y: c.lo + 0.05 }, { x: c.x, y: c.hi }]}
          stroke={columnColors[1]}
          strokeWidth={2}
          strokeDasharray="2 5"
        />
      ))}
      {edges.map((e, i) => (
        <ReferenceLine
          key={`e${i}`}
          segment={[{ x: e.x1, y: e.y1 }, { x: e.x2, y: e.y2 }]}
          stroke={e.color}
          strokeWidth={e.width}
          strokeDasharray={e.dash}
        />
      ))}
      {labels.map((l, i) => (
        <ReferenceDot
          key={`l${i}`}
          x={l.x}
          y={l.y}
          r={0}
          fill="none"
          stroke="none"
          label={{ value: l.text, position: "center", fontSize: 13.5, fill: "#333", fontFamily: textFont }}
        />
      ))}
      {series.map((s, i) => (
        <Scatter key={`s${i}`} data={toPoints(s.data)} shape={square(s.color)} isAnimationActive={false} />
      ))}
      <ReferenceLine x={quadX} stroke="#3a3a3a" strokeWidth={1} />
      <ReferenceLine y={quadY} stroke="#3a3a3a" strokeWidth={1} />
      {gate && (
        <ReferenceArea
          x1={gate.x1}
          x2={gate.x2}
          y1={gate.y1}
          y2={gate.y2}
          fill="none"
          fillOpacity={0}
          stroke={gate.color}
          strokeWidth={gate.width}
        />
      )}
      <ReferenceArea x1={0} x2={AXIS_MAX} y1={0} y2={AXIS_MAX} fill="none" fillOpacity={0} stroke="#666" strokeWidth={1} />
    </ScatterChart>
  </div>
);

const titleCenters = [364, 711, 1057];
const titleBaselines = [47, 77, 106];

const captionLines = [
  { y: 540, len: 1253 },
  { y: 564, len: 1290 },
  { y: 588, len: 1248 },
  { y: 611, len: 1190 },
];

export default function App() {
  return (
    <div
      style={{
        position: "absolute",
        left: 0,
        top: 0,
        width: 1356,
        height: 627,
        background: "#fff",
        overflow: "hidden",
      }}
    >
      <svg width={1356} height={627} style={{ position: "absolute", left: 0, top: 0 }}>
        <rect x={8.5} y={3.5} width={1345} height={640} fill="none" stroke="#9a9a9a" strokeWidth={1} />
        {titles.map((lines, i) =>
          lines.map((t, j) => (
            <text
              key={`t${i}${j}`}
              x={titleCenters[i]}
              y={titleBaselines[j]}
              textAnchor="middle"
              fontSize={25}
              fill="#2b2b2b"
              fontFamily={textFont}
            >
              {t}
            </text>
          ))
        )}
        <text
          transform="translate(174,280) rotate(-90)"
          textAnchor="middle"
          fontSize={27}
          fill="#231f20"
          fontFamily={textFont}
          textLength={264}
          lengthAdjust="spacingAndGlyphs"
        >
          Antigen binding - APC
        </text>
        <text
          x={641}
          y={475}
          textAnchor="middle"
          fontSize={27}
          fill="#231f20"
          fontFamily={textFont}
          textLength={388}
          lengthAdjust="spacingAndGlyphs"
        >
          scFv surface expression - PE
        </text>
        <g fontFamily={textFont} fontSize={17.5} fill="#2b2b2b">
          <text x={23} y={captionLines[0].y} textLength={captionLines[0].len} lengthAdjust="spacingAndGlyphs">
            <tspan fontWeight="bold">FIGURE 3</tspan> | Analysis of the naïve library for single-chain Fvs (scFvs) with
            identical heavy-chain complementarity-determining region 3 (HCDR3s). Yeast clones
          </text>
          <text x={23} y={captionLines[1].y} textLength={captionLines[1].len} lengthAdjust="spacingAndGlyphs">
            displaying scFvs from the HCDR3-specific mini-library obtained from the naïve library{" "}
            <tspan fontStyle="italic">via</tspan> inverse PCR were analyzed by flow cytometry. Cells expressing scFvs on
          </text>
          <text x={23} y={captionLines[2].y} textLength={captionLines[2].len} lengthAdjust="spacingAndGlyphs">
            the surface and detected by anti-SV5-PE antibody were gated and sorted (left panel). Once grown and analyzed,
            they showed an increase in the expressing
          </text>
          <text x={23} y={captionLines[3].y} textLength={captionLines[3].len} lengthAdjust="spacingAndGlyphs">
            population (middle panel) with a limited, but detectable, binding for biotinylated CDK2 detected by
            streptavidin-APC conjugation (right panel).
          </text>
        </g>
      </svg>
      <Panel
        left={166}
        series={[
          { data: p1LeftBlue, color: BLUE },
          { data: p1RightBlue, color: BLUE },
          { data: p1Outliers, color: BLUE },
          { data: p1LeftCyan, color: CYAN },
          { data: p1RightCyan, color: CYAN },
        ]}
        columns={p1Columns}
        columnColors={[CYAN, BLUE]}
        edges={p1Edges}
        quadX={1.98}
        quadY={2.74}
        labels={p1Labels}
        gate={{ x1: 3.15, x2: 5.22, y1: 1.3, y2: 2.65, color: "#444", width: 1.2 }}
      />
      <Panel
        left={515}
        series={[
          { data: p2LeftBlue, color: BLUE },
          { data: p2BridgeBlue, color: BLUE },
          { data: p2RightBlue, color: BLUE },
          { data: p2Green, color: GREEN },
          { data: p2Cyan, color: CYAN },
        ]}
        columns={p2Columns}
        columnColors={[BLUE, GREEN]}
        edges={p2Edges}
        quadX={2.02}
        quadY={2.7}
        labels={p2Labels}
      />
      <Panel
        left={863}
        series={[
          { data: p3Blue, color: BLUE },
          { data: p3Outliers, color: BLUE },
          { data: p3Green, color: GREEN },
        ]}
        columns={p3Columns}
        columnColors={[BLUE, GREEN]}
        edges={p3Edges}
        quadX={2.02}
        quadY={2.74}
        labels={p3Labels}
        gate={{ x1: 2.65, x2: 4.72, y1: 2.83, y2: 4.19, color: "#f26b52", width: 1.5 }}
      />
    </div>
  );
}
